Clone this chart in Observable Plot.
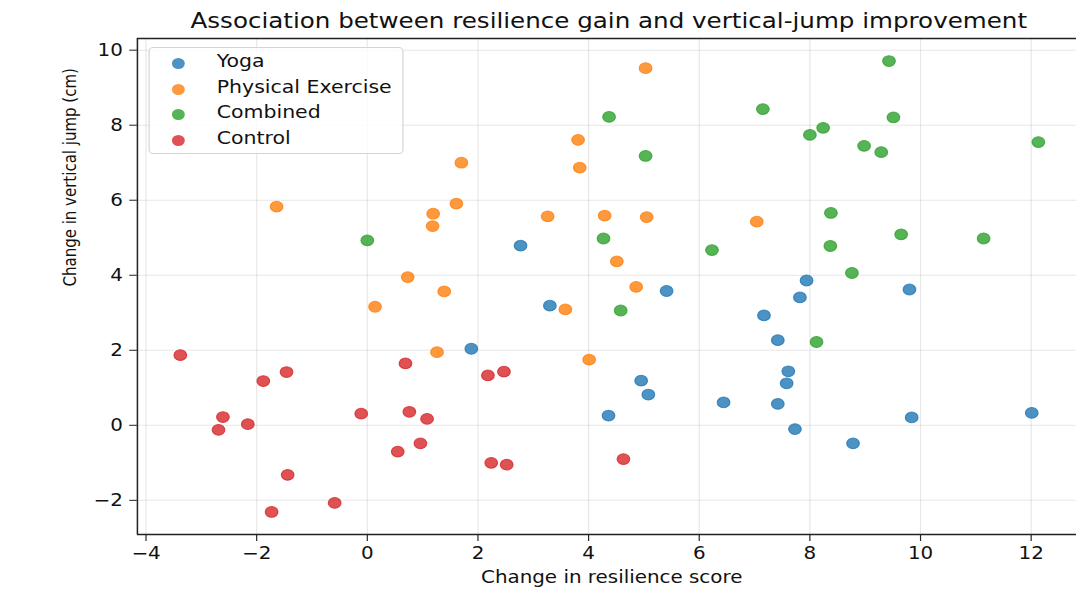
<!DOCTYPE html>
<html>
<head>
<meta charset="utf-8">
<script src="https://cdn.jsdelivr.net/npm/d3@7"></script>
<script src="https://cdn.jsdelivr.net/npm/@observablehq/plot@0.6"></script>
<style>
  html, body { margin: 0; padding: 0; background: #fff; overflow: hidden; }
  #fig { position: relative; width: 920px; height: 590px; transform-origin: 0 0; font-family: "DejaVu Sans", sans-serif; color: #111; overflow: hidden; }
  #title { position: absolute; top: 11px; font-size: 21px; line-height: 21px; white-space: nowrap; transform: translateX(-50%); }
  #chart { position: absolute; left: 0; top: 0; }
  #legend { position: absolute; box-sizing: border-box; border: 1px solid #d4d4d4; border-radius: 4px; background: rgba(255,255,255,0.8); }
  .lg-dot { position: absolute; border-radius: 50%; }
  .lg-txt { position: absolute; font-size: 17.5px; line-height: 17.5px; white-space: nowrap; color: #111; }
</style>
</head>
<body>
<div id="fig">
  <div id="chart"></div>
  <div id="title"></div>
  <div id="legend"></div>
</div>
<script>
// ---- data ----
const titleText = "Association between resilience gain and vertical-jump improvement";
const xLabel = "Change in resilience score";
const yLabel = "Change in vertical jump (cm)";
const groups = ["Yoga", "Physical Exercise", "Combined", "Control"];
const colors = ["#1f77b4", "#ff7f0e", "#2ca02c", "#d62728"];
const xTicks = [-4, -2, 0, 2, 4, 6, 8, 10, 12];
const yTicks = [-2, 0, 2, 4, 6, 8, 10];

const yogaX = [2.77, 7.94, 9.80, 5.41, 7.82, 3.30, 7.17, 7.42, 7.61, 7.58, 4.95, 5.08, 6.44, 7.42, 4.36, 9.84, 12.01, 7.73, 8.78, 1.88];
const yogaY = [4.79, 3.86, 3.62, 3.58, 3.41, 3.19, 2.93, 2.27, 1.44, 1.12, 1.19, 0.82, 0.61, 0.57, 0.26, 0.21, 0.33, -0.10, -0.48, 2.04];

const exerciseX = [-1.64, 1.70, 1.61, 1.19, 1.18, 0.73, 1.39, 5.03, 3.81, 3.84, 3.26, 4.29, 5.05, 7.04, 4.51, 4.86, 3.58, 4.01, 0.14, 1.26];
const exerciseY = [5.83, 7.00, 5.91, 5.64, 5.31, 3.95, 3.57, 9.52, 7.61, 6.87, 5.57, 5.59, 5.55, 5.43, 4.37, 3.69, 3.09, 1.75, 3.16, 1.95];

const combinedX = [0.00, 9.43, 4.37, 7.15, 9.51, 8.24, 8.00, 8.98, 9.29, 12.13, 5.03, 8.38, 4.27, 9.65, 11.14, 6.23, 8.37, 8.76, 4.58, 8.12];
const combinedY = [4.93, 9.71, 8.22, 8.43, 8.21, 7.93, 7.74, 7.45, 7.28, 7.55, 7.18, 5.66, 4.98, 5.09, 4.98, 4.67, 4.78, 4.06, 3.06, 2.22];

const controlX = [4.63, -3.38, 0.69, 2.18, 2.47, -1.46, -1.88, -2.61, -2.69, -2.16, -0.11, 0.76, 1.08, 0.96, 0.55, 2.24, 2.52, -1.44, -0.59, -1.73];
const controlY = [-0.90, 1.87, 1.65, 1.33, 1.43, 1.42, 1.18, 0.22, -0.12, 0.03, 0.31, 0.36, 0.17, -0.48, -0.70, -1.00, -1.05, -1.32, -2.07, -2.31];

// ---- build table ----
const seriesX = [yogaX, exerciseX, combinedX, controlX];
const seriesY = [yogaY, exerciseY, combinedY, controlY];
const rows = [];
groups.forEach((g, i) => seriesX[i].forEach((x, j) => rows.push({group: g, x, y: seriesY[i][j]})));

function padded(vals) {
  const [lo, hi] = d3.extent(vals);
  const p = (hi - lo) * 0.05;
  return [lo - p, hi + p];
}
const xDomain = padded(rows.map(d => d.x));
const yDomain = padded(rows.map(d => d.y));

const SX = 1076 / 920; // horizontal stretch of the reference image
document.getElementById("fig").style.transform = `scaleX(${SX})`;

const fmt = d => (d < 0 ? "\u2212" : "") + Math.abs(d);
const ML = 117, MR = -4, MT = 38, MB = 56, W = 920, H = 590;

const plot = Plot.plot({
  width: W, height: H,
  marginLeft: ML, marginRight: MR, marginTop: MT, marginBottom: MB,
  style: {fontFamily: "DejaVu Sans, sans-serif", fontSize: "17px", color: "#111", background: "transparent"},
  x: {domain: xDomain, label: null},
  y: {domain: yDomain, label: null},
  color: {domain: groups, range: colors},
  marks: [
    Plot.gridX({ticks: xTicks, stroke: "#b0b0b0", strokeOpacity: 0.3, strokeWidth: 1}),
    Plot.gridY({ticks: yTicks, stroke: "#b0b0b0", strokeOpacity: 0.3, strokeWidth: 1}),
    Plot.dot(rows, {x: "x", y: "y", fill: "group", stroke: "group", r: 5.4, fillOpacity: 0.8, strokeOpacity: 0.8, strokeWidth: 1}),
    Plot.ruleY(yDomain, {x1: xDomain[0], x2: xDomain[1], stroke: "#222", strokeWidth: 1.3}),
    Plot.ruleX([xDomain[0]], {y1: yDomain[0], y2: yDomain[1], stroke: "#222", strokeWidth: 1.3}),
    Plot.axisX({ticks: xTicks, tickFormat: fmt, tickSize: 7, tickPadding: 5, fontSize: 17, stroke: "#222", fill: "#111", label: null}),
    Plot.axisY({ticks: yTicks, tickFormat: fmt, tickSize: 6.5, tickPadding: 6, fontSize: 17, stroke: "#222", fill: "#111", label: null}),
    Plot.text([xLabel], {frameAnchor: "bottom", dx: 2, dy: 43, lineAnchor: "middle", fontSize: 17, fill: "#111", text: d => d}),
    Plot.text([yLabel], {frameAnchor: "left", dx: -57, rotate: -90, lineAnchor: "middle", fontSize: 15, fill: "#111", text: d => d})
  ]
});
document.getElementById("chart").appendChild(plot);

// title centred on the axes
const t = document.getElementById("title");
t.textContent = titleText;
t.style.left = ((ML + (W - MR)) / 2) + "px";

// legend
const lg = document.getElementById("legend");
Object.assign(lg.style, {left: "126.5px", top: "47.3px", width: "218.5px", height: "107px"});
groups.forEach((g, i) => {
  const rowY = 63 + i * 25.4 - 47.3;
  const dot = document.createElement("div");
  dot.className = "lg-dot";
  Object.assign(dot.style, {left: (151 - 5.5 - 126.5) + "px", top: (rowY - 5.5) + "px", width: "11px", height: "11px", background: colors[i], opacity: 0.8});
  lg.appendChild(dot);
  const tx = document.createElement("div");
  tx.className = "lg-txt";
  tx.textContent = g;
  Object.assign(tx.style, {left: (184.3 - 126.5) + "px", top: (rowY + 4.3 - 14.8) + "px"});
  lg.appendChild(tx);
});
</script>
</body>
</html>
